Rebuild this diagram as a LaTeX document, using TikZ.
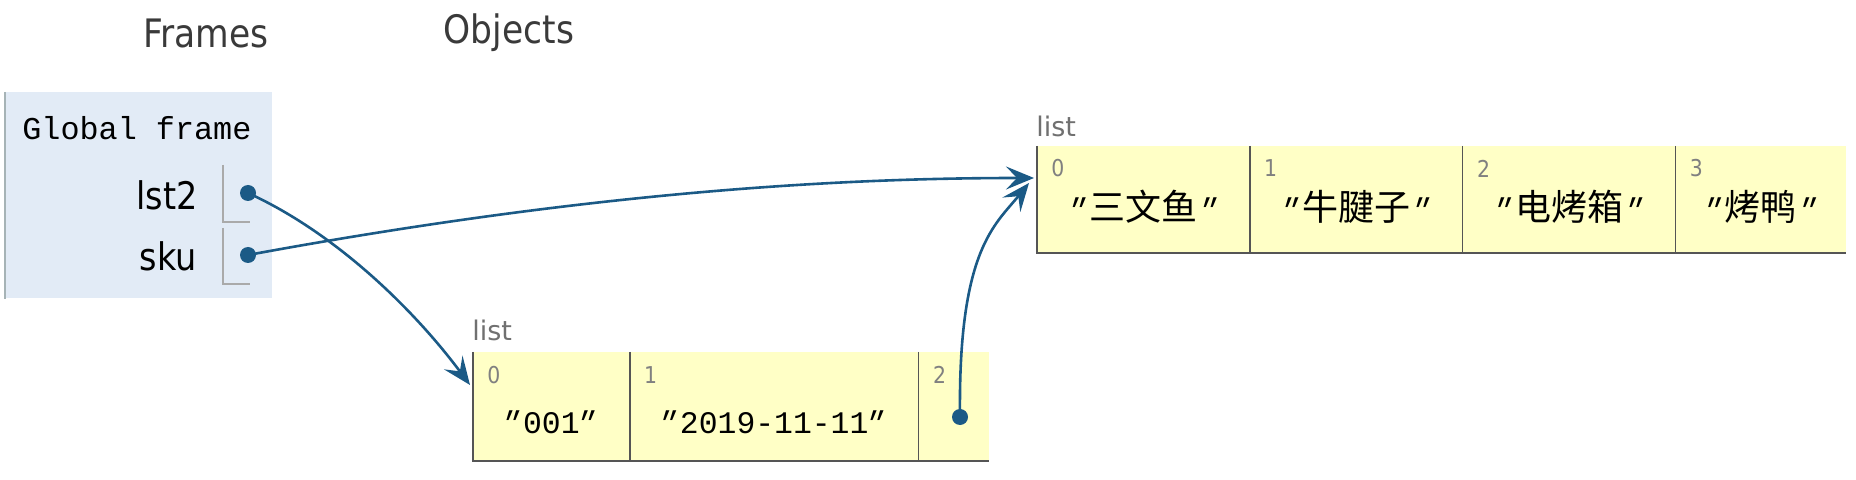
\documentclass[tikz,border=0pt]{standalone}
\usepackage{fontspec}
\setmainfont{DejaVu Sans}[FakeStretch=0.88]
\newfontfamily\widesans{DejaVu Sans}
\newfontfamily\monof{Liberation Mono}
\newfontfamily\quotef{Liberation Mono}[FakeSlant=0.35]
\newfontfamily\cjk{Noto Sans CJK SC}
\usetikzlibrary{arrows.meta,calc}
\definecolor{framebg}{HTML}{E2EBF6}
\definecolor{framebd}{HTML}{A6B3B6}
\definecolor{brkc}{HTML}{AAAAAA}
\definecolor{cellbg}{HTML}{FFFFC6}
\definecolor{cellbd}{HTML}{555555}
\definecolor{arrowc}{HTML}{1B5A86}
\definecolor{headc}{HTML}{3A3A3A}
\definecolor{idxc}{HTML}{808080}
\definecolor{typec}{HTML}{707070}
\tikzset{
  heading/.style={inner sep=0pt, text=headc, font=\fontsize{19.6}{22}\selectfont},
  varname/.style={inner sep=0pt, anchor=east, text=black, font=\fontsize{19}{22}\selectfont},
  framelbl/.style={inner sep=0pt, anchor=west, text=black, font=\monof\fontsize{15.9}{18}\selectfont},
  typelbl/.style={inner sep=0pt, anchor=west, text=typec, font=\widesans\fontsize{13.5}{15}\selectfont},
  idxlbl/.style={inner sep=0pt, anchor=west, text=idxc, font=\fontsize{11.6}{13}\selectfont},
  vallbl/.style={inner sep=0pt, text=black, font=\monof\fontsize{15.7}{18}\selectfont},
  ucell/.style={anchor=north west, inner sep=0pt, fill=cellbg, minimum height=53pt},
  lcell/.style={anchor=north west, inner sep=0pt, fill=cellbg, minimum height=54pt},
  cellborder/.style={draw=cellbd, line width=0.8pt},
  brk/.style={draw=brkc, line width=0.7pt},
  dot/.style={circle, fill=arrowc, inner sep=0pt, minimum size=8pt},
  ptr/.style={draw=arrowc, line width=1.3pt, -{Stealth[length=14pt,width=11.5pt,inset=5.5pt]}},
}
\newcommand{\qo}{\kern-3.6pt{\quotef ″}\kern3.6pt}
\newcommand{\qc}{\kern-1.5pt{\quotef ″}\kern1.5pt}
\newcommand{\cjkval}[1]{\qo{\cjk\fontsize{18}{20}\selectfont #1}\qc}
\begin{document}
\begin{tikzpicture}[x=0.5pt,y=-0.5pt]
\useasboundingbox (0,0) rectangle (1856,480);
% headings
\node[heading] (hf) at (206,33) {Frames};
\node[heading] (ho) at (509,33) {Objects};
% global frame
\node[anchor=north west, fill=framebg, inner sep=0pt, minimum width=133.5pt, minimum height=103pt] (gf) at (5,92) {};
\draw[draw=framebd, line width=0.8pt] (gf.north west) -- (gf.south west);
\node[framelbl] (gfl) at (22,128) {Global frame};
\node[varname] (v1) at (198,195) {lst2};
\node[varname] (v2) at (197,256) {sku};
\draw[brk] (223,165) -- (223,222) -- (250,222);
\draw[brk] (223,228) -- (223,284) -- (250,284);
\node[dot] (d1) at (248,193) {};
\node[dot] (d2) at (248,255) {};
% upper list
\node[typelbl] (t1) at (1036,126) {list};
\node[ucell, minimum width=106pt] (u0) at (1037,146) {};
\node[ucell, minimum width=106pt] (u1) at (u0.north east) {};
\node[ucell, minimum width=106pt] (u2) at (u1.north east) {};
\node[ucell, minimum width=85pt] (u3) at (u2.north east) {};
\foreach \c in {u0,u1,u2,u3}{
  \draw[cellborder] (\c.north west) -- (\c.south west) -- (\c.south east);
}
\node[idxlbl] (ui0) at ($(u0.north west)+(14,22.5)$) {0};
\node[idxlbl] (ui1) at ($(u1.north west)+(14,22.5)$) {1};
\node[idxlbl] (ui2) at ($(u2.north west)+(14,22.5)$) {2};
\node[idxlbl] (ui3) at ($(u3.north west)+(14,22.5)$) {3};
\node[vallbl] (uv0) at ($(u0.north)+(0,61)$) {\cjkval{三文鱼}};
\node[vallbl] (uv1) at ($(u1.north)+(0,61)$) {\cjkval{牛腱子}};
\node[vallbl] (uv2) at ($(u2.north)+(0,61)$) {\cjkval{电烤箱}};
\node[vallbl] (uv3) at ($(u3.north)+(0,61)$) {\cjkval{烤鸭}};
% lower list
\node[typelbl] (t2) at (472,330) {list};
\node[lcell, minimum width=78pt] (l0) at (473,352) {};
\node[lcell, minimum width=144pt] (l1) at (l0.north east) {};
\node[lcell, minimum width=35pt] (l2) at (l1.north east) {};
\foreach \c in {l0,l1,l2}{
  \draw[cellborder] (\c.north west) -- (\c.south west) -- (\c.south east);
}
\node[idxlbl] (li0) at ($(l0.north west)+(14,23)$) {0};
\node[idxlbl] (li1) at ($(l1.north west)+(14,23)$) {1};
\node[idxlbl] (li2) at ($(l2.north west)+(14,23)$) {2};
\node[vallbl] (lv0) at ($(l0.north)+(0,70)$) {\qo001\qo};
\node[vallbl] (lv1) at ($(l1.north)+(0,70)$) {\qo2019-11-11\qo};
\node[dot] (d3) at (960,417) {};
% pointer targets
\coordinate (tu) at (1034,178);
\coordinate (tu2) at (1029,183);
\coordinate (tl) at (470,385);
% pointers
\draw[ptr] (d1.center) .. controls (340,235) and (418,315) .. (tl);
\draw[ptr] (d2.center) .. controls (600,190) and (850,178) .. (tu);
\draw[ptr] (d3.center) .. controls (958,250) and (995,225) .. (tu2);
\end{tikzpicture}
\end{document}
